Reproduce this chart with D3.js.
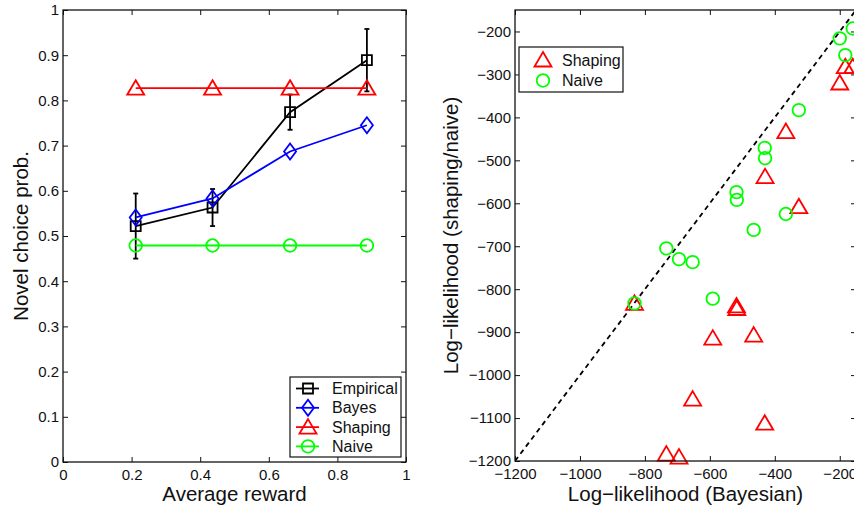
<!DOCTYPE html>
<html>
<head>
<meta charset="utf-8">
<script src="https://cdn.jsdelivr.net/npm/d3@7"></script>
<style>
body { margin: 0; background: #fff; }
svg { display: block; font-family: "Liberation Sans", Arial, sans-serif; }
</style>
</head>
<body>
<div class="canvas"></div>
<script>
// left panel data
const rewardLevels = [0.212, 0.436, 0.662, 0.886]
const empirical = [0.522, 0.563, 0.774, 0.889]
const empiricalErr = [0.072, 0.041, 0.039, 0.069]
const bayes = [0.541, 0.583, 0.687, 0.745]
const shaping = [0.827, 0.827, 0.827, 0.827]
const naive = [0.479, 0.479, 0.479, 0.479]

// right panel data (one entry per subject)
const llBayes   = [-832, -734, -695, -653, -591, -518, -517, -465, -431, -430, -366, -326, -200, -183, -160]
const llShaping = [-833, -1184, -1191, -1056, -914, -839, -845, -907, -1112, -538, -433, -608, -320, -282, -282]
const llNaive   = [-833, -705, -730, -737, -822, -574, -592, -662, -471, -495, -625, -383, -216, -255, -193]

// tick labels
const leftXTicks = [0, 0.2, 0.4, 0.6, 0.8, 1]
const leftYTicks = [0, 0.1, 0.2, 0.3, 0.4, 0.5, 0.6, 0.7, 0.8, 0.9, 1]
const rightXTicks = [-1200, -1000, -800, -600, -400, -200]
const rightYTicks = [-1200, -1100, -1000, -900, -800, -700, -600, -500, -400, -300, -200]

const shapes = {
    square: 'M-5,-5H5V5H-5Z',
    diamond: 'M0,-8L6,0L0,8L-6,0Z',
    triangle: 'M0,-8L8.5,6.5L-8.5,6.5Z'
}

const svg = d3.select('.canvas')
    .append('svg')
    .attr('width', 854)
    .attr('height', 510)

const tickFont = 15
const labelFont = 20.5
const green = '#00ff00'

// draws ticks on all 4 sides (inward) plus the box
function frame(g, x, y, xTicks, yTicks, fmt) {
    const [x0, x1] = x.range()
    const [y0, y1] = y.range()
    const style = sel => {
        sel.select('.domain').remove()
        sel.attr('font-size', tickFont).attr('font-family', null).attr('color', '#111')
        sel.selectAll('line').attr('stroke-width', 1)
    }
    g.append('g').attr('transform', `translate(0,${y0})`)
        .call(d3.axisBottom(x).tickValues(xTicks).tickSize(-5).tickSizeOuter(0).tickPadding(7).tickFormat(fmt))
        .call(style)
    g.append('g').attr('transform', `translate(0,${y1})`)
        .call(d3.axisTop(x).tickValues(xTicks).tickSize(-5).tickSizeOuter(0).tickFormat(''))
        .call(style)
    g.append('g').attr('transform', `translate(${x0},0)`)
        .call(d3.axisLeft(y).tickValues(yTicks).tickSize(-5).tickSizeOuter(0).tickPadding(4).tickFormat(fmt))
        .call(style)
    g.append('g').attr('transform', `translate(${x1},0)`)
        .call(d3.axisRight(y).tickValues(yTicks).tickSize(-5).tickSizeOuter(0).tickFormat(''))
        .call(style)
    g.append('rect')
        .attr('x', x0).attr('y', y1)
        .attr('width', x1 - x0).attr('height', y0 - y1)
        .attr('fill', 'none').attr('stroke', '#111').attr('stroke-width', 1.3)
}

function marker(sel, shape, color) {
    if (shape === 'circle') {
        sel.append('circle').attr('r', 6.3)
            .attr('fill', 'none').attr('stroke', color).attr('stroke-width', 1.8)
    } else {
        sel.append('path').attr('d', shapes[shape])
            .attr('fill', 'none').attr('stroke', color).attr('stroke-width', 1.8)
    }
}

// ---------- left panel ----------
const xL = d3.scaleLinear().domain([0, 1]).range([63, 406])
const yL = d3.scaleLinear().domain([0, 1]).range([462, 10])
const left = svg.append('g')

const series = [
    { name: 'Empirical', values: empirical, color: '#000', shape: 'square' },
    { name: 'Bayes', values: bayes, color: '#0000ff', shape: 'diamond' },
    { name: 'Shaping', values: shaping, color: '#ff0000', shape: 'triangle' },
    { name: 'Naive', values: naive, color: green, shape: 'circle' }
]

const lineL = d3.line().x(d => xL(d[0])).y(d => yL(d[1]))

// error bars for empirical
const eb = left.append('g').attr('stroke', '#000').attr('stroke-width', 1.8)
rewardLevels.forEach((r, i) => {
    const cx = xL(r), lo = yL(empirical[i] - empiricalErr[i]), hi = yL(empirical[i] + empiricalErr[i])
    eb.append('line').attr('x1', cx).attr('x2', cx).attr('y1', lo).attr('y2', hi)
    eb.append('line').attr('x1', cx - 2.5).attr('x2', cx + 2.5).attr('y1', lo).attr('y2', lo)
    eb.append('line').attr('x1', cx - 2.5).attr('x2', cx + 2.5).attr('y1', hi).attr('y2', hi)
})

series.forEach(s => {
    const pts = rewardLevels.map((r, i) => [r, s.values[i]])
    left.append('path')
        .attr('d', lineL(pts))
        .attr('fill', 'none').attr('stroke', s.color).attr('stroke-width', 1.8)
    left.selectAll(null).data(pts).enter()
        .append('g')
        .attr('transform', d => `translate(${xL(d[0])},${yL(d[1])})`)
        .each(function () { marker(d3.select(this), s.shape, s.color) })
})

frame(left, xL, yL, leftXTicks, leftYTicks, d => String(d))

left.append('text')
    .attr('x', (63 + 406) / 2).attr('y', 501)
    .attr('text-anchor', 'middle').attr('font-size', labelFont).attr('fill', '#111')
    .text('Average reward')
left.append('text')
    .attr('transform', `translate(28,${(10 + 462) / 2}) rotate(-90)`)
    .attr('text-anchor', 'middle').attr('font-size', labelFont).attr('fill', '#111')
    .text('Novel choice prob.')

// legend
const legL = left.append('g')
legL.append('rect')
    .attr('x', 290).attr('y', 377).attr('width', 111).attr('height', 80)
    .attr('fill', '#fff').attr('stroke', '#111').attr('stroke-width', 1.2)
series.forEach((s, i) => {
    const ly = 388.5 + i * 19.3
    legL.append('line')
        .attr('x1', 296).attr('x2', 319).attr('y1', ly).attr('y2', ly)
        .attr('stroke', s.color).attr('stroke-width', 1.8)
    legL.append('g').attr('transform', `translate(308,${ly})`)
        .call(g => marker(g, s.shape, s.color))
    legL.append('text')
        .attr('x', 332).attr('y', ly).attr('dy', '0.35em')
        .attr('font-size', 16).attr('fill', '#111')
        .text(s.name)
})

// ---------- right panel ----------
const xR = d3.scaleLinear().domain([-1200, -150]).range([515, 856])
const yR = d3.scaleLinear().domain([-1200, -150]).range([461, 10])
const right = svg.append('g')

svg.append('clipPath').attr('id', 'clipR')
    .append('rect').attr('x', 515).attr('y', 10).attr('width', 341).attr('height', 451)

right.append('path')
    .attr('clip-path', 'url(#clipR)')
    .attr('d', d3.line().x(d => xR(d)).y(d => yR(d))([-1200, -150]))
    .attr('stroke', '#000').attr('stroke-width', 1.8).attr('stroke-dasharray', '5,4')
    .attr('fill', 'none')

right.selectAll('.shp').data(llBayes).enter()
    .append('g').attr('class', 'shp')
    .attr('transform', (d, i) => `translate(${xR(d)},${yR(llShaping[i])})`)
    .each(function () { marker(d3.select(this), 'triangle', '#ff0000') })

right.selectAll('.nv').data(llBayes).enter()
    .append('g').attr('class', 'nv')
    .attr('transform', (d, i) => `translate(${xR(d)},${yR(llNaive[i])})`)
    .each(function () { marker(d3.select(this), 'circle', green) })

frame(right, xR, yR, rightXTicks, rightYTicks, d => String(d).replace('-', '\u2212'))

right.append('text')
    .attr('x', (515 + 856) / 2).attr('y', 501)
    .attr('text-anchor', 'middle').attr('font-size', labelFont).attr('fill', '#111')
    .text('Log\u2212likelihood (Bayesian)')
right.append('text')
    .attr('transform', `translate(458,${(10 + 461) / 2}) rotate(-90)`)
    .attr('text-anchor', 'middle').attr('font-size', labelFont).attr('fill', '#111')
    .text('Log\u2212likelihood (shaping/naive)')

const legR = right.append('g')
legR.append('rect')
    .attr('x', 519).attr('y', 47).attr('width', 104).attr('height', 45)
    .attr('fill', '#fff').attr('stroke', '#111').attr('stroke-width', 1.2)
;[['Shaping', 'triangle', '#ff0000'], ['Naive', 'circle', green]].forEach((e, i) => {
    const ly = 60 + i * 20.5
    legR.append('g').attr('transform', `translate(543,${ly})`)
        .call(g => marker(g, e[1], e[2]))
    legR.append('text')
        .attr('x', 562).attr('y', ly).attr('dy', '0.35em')
        .attr('font-size', 16).attr('fill', '#111')
        .text(e[0])
})
</script>
</body>
</html>
